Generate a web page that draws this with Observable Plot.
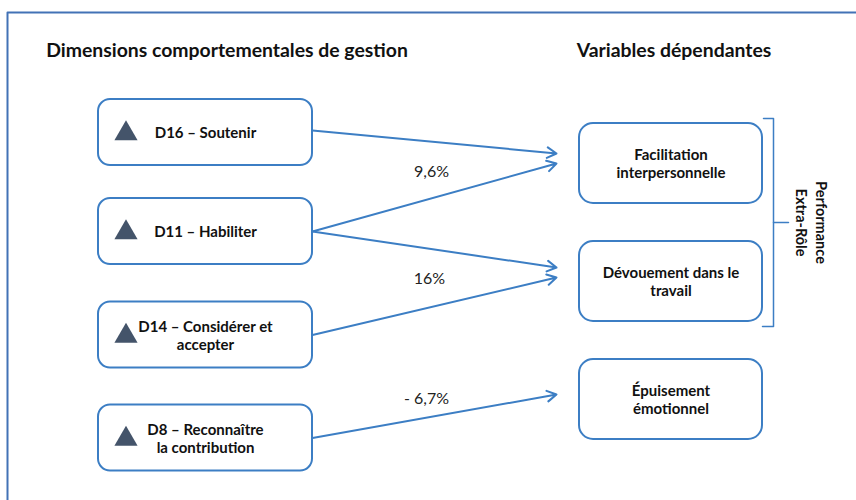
<!DOCTYPE html>
<html>
<head>
<meta charset="utf-8">
<script src="https://cdn.jsdelivr.net/npm/d3@7"></script>
<script src="https://cdn.jsdelivr.net/npm/@observablehq/plot@0.6"></script>
<style>
  html, body { margin: 0; padding: 0; background: #ffffff; }
  #chart svg { display: block; }
</style>
</head>
<body>
<div id="chart"></div>
<script>
// ---- Data ----
const columnTitles = ["Dimensions comportementales de gestion", "Variables dépendantes"];
const leftNodes = ["D16 – Soutenir", "D11 – Habiliter", "D14 – Considérer et\naccepter", "D8 – Reconnaître\nla contribution"];
const rightNodes = ["Facilitation\ninterpersonnelle", "Dévouement dans le\ntravail", "Épuisement\némotionnel"];
const linkFrom = [0, 1, 1, 2, 3];
const linkTo = [0, 0, 1, 1, 2];
const effectLabels = ["9,6%", "16%", "- 6,7%"];
const groupLabel = "Performance\nExtra-Rôle";

// ---- Layout (diagram geometry, in pixel units of the x/y scales) ----
const L = {
  titleY: 50, titleX: [226.5, 673.5],
  left: {x1: 98, x2: 312, cy: [132, 231, 334.5, 437.5], h: 66, triX: 125.5, textDx: 0},
  right: {x1: 579, x2: 762, cy: [163, 281, 399], h: 80},
  linkStartDy: [-2, 0, 0, 0, 0],
  linkEndX: 556,
  linkEndDy: [-10, 0, -14, -4, -5],
  effectPos: [[431, 171], [429, 278], [426, 398]],
  bracketX: 773, bracketTop: 118, bracketBottom: 326, bracketMid: 222,
  groupX: 812
};

const blue = "#3c7ec4";
const font = "Lato, 'Open Sans', sans-serif";

const leftBoxes = leftNodes.map((label, i) => ({label, cy: L.left.cy[i]}));
const rightBoxes = rightNodes.map((label, i) => ({label, cy: L.right.cy[i]}));
const links = linkFrom.map((f, i) => ({
  x1: L.left.x2, y1: L.left.cy[f] + L.linkStartDy[i],
  x2: L.linkEndX, y2: L.right.cy[linkTo[i]] + L.linkEndDy[i]
}));
const effects = effectLabels.map((t, i) => ({t, x: L.effectPos[i][0], y: L.effectPos[i][1]}));
const titles = columnTitles.map((t, i) => ({t, x: L.titleX[i], y: L.titleY}));

const bracket = [
  {x: L.bracketX - 10, y: L.bracketTop},
  {x: L.bracketX, y: L.bracketTop},
  {x: L.bracketX, y: L.bracketBottom},
  {x: L.bracketX - 11, y: L.bracketBottom}
];
const bracketTick = [
  {x: L.bracketX, y: L.bracketMid},
  {x: L.bracketX + 15, y: L.bracketMid}
];
const frame = [{x: 7, y: 500}, {x: 7, y: 12}, {x: 856, y: 12}];

const chart = Plot.plot({
  width: 856,
  height: 500,
  margin: 0,
  x: {domain: [0, 856], range: [0, 856], axis: null},
  y: {domain: [0, 500], range: [0, 500], axis: null},
  style: {fontFamily: font, background: "#ffffff"},
  marks: [
    Plot.line(frame, {x: "x", y: "y", stroke: "#4272b6", strokeWidth: 2}),
    Plot.text(titles, {x: "x", y: "y", text: "t", fontSize: 19.4, fontWeight: "bold", fill: "#111"}),
    Plot.rect(leftBoxes, {x1: L.left.x1, x2: L.left.x2, y1: d => d.cy - L.left.h / 2, y2: d => d.cy + L.left.h / 2,
      rx: 12, fill: "white", stroke: blue, strokeWidth: 2}),
    Plot.rect(rightBoxes, {x1: L.right.x1, x2: L.right.x2, y1: d => d.cy - L.right.h / 2, y2: d => d.cy + L.right.h / 2,
      rx: 14, fill: "white", stroke: blue, strokeWidth: 2}),
    Plot.dot(leftBoxes, {x: L.left.triX, y: d => d.cy + 1, symbol: "triangle", r: 8.6, fill: "#44546a", stroke: null}),
    Plot.text(leftBoxes, {x: (L.left.x1 + L.left.x2) / 2, y: "cy", text: "label", fontSize: 15, fontWeight: "bold",
      lineHeight: 1.2, fill: "#111"}),
    Plot.text(rightBoxes, {x: (L.right.x1 + L.right.x2) / 2, y: "cy", text: "label", fontSize: 15, fontWeight: "bold",
      lineHeight: 1.2, fill: "#111"}),
    Plot.arrow(links, {x1: "x1", y1: "y1", x2: "x2", y2: "y2", stroke: blue, strokeWidth: 2, headLength: 8}),
    Plot.text(effects, {x: "x", y: "y", text: "t", fontSize: 16, fill: "#222"}),
    Plot.line(bracket, {x: "x", y: "y", stroke: blue, strokeWidth: 1.5}),
    Plot.line(bracketTick, {x: "x", y: "y", stroke: blue, strokeWidth: 1.5}),
    Plot.text([groupLabel], {x: L.groupX, y: L.bracketMid, text: d => d, rotate: 90, fontSize: 14.5, fontWeight: "bold",
      lineHeight: 1.38, fill: "#111"})
  ]
});
document.getElementById("chart").append(chart);
</script>
</body>
</html>
